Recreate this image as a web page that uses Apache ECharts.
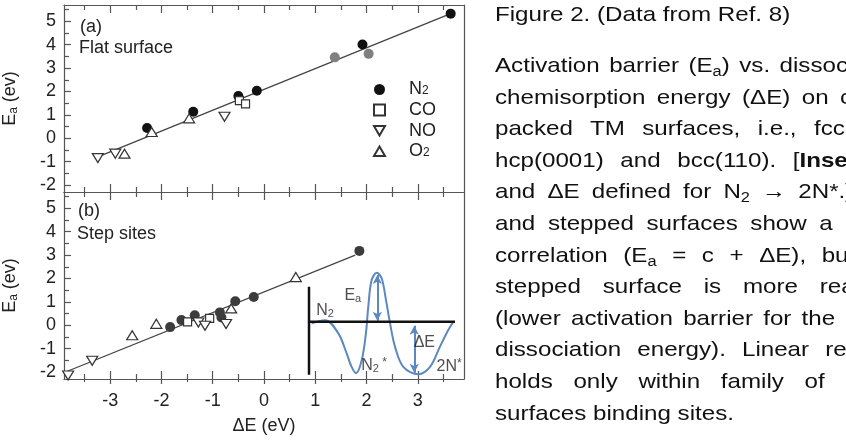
<!DOCTYPE html>
<html>
<head>
<meta charset="utf-8">
<script src="https://cdn.jsdelivr.net/npm/echarts@6/dist/echarts.min.js"></script>
<style>
  html, body { margin: 0; padding: 0; background: #fff; overflow: hidden; }
  #chart { position: absolute; left: 0; top: 0; width: 846px; height: 442px; }
  .ln { position: absolute; left: 495px; width: 356px; height: 24px; font-family: 'Liberation Sans', Arial, sans-serif; font-size: 21px; line-height: 24px; color: #111; white-space: nowrap; transform: scaleX(1.15); transform-origin: 0 0; }
  .j { text-align: justify; text-align-last: justify; white-space: normal; }
  sub { font-size: 0.68em; vertical-align: -0.25em; line-height: 0; }
</style>
</head>
<body>
<div id="chart"></div>
<div class="ln" style="top:2px">Figure 2. (Data from Ref. 8)</div>
<div class="ln j" style="top:53px">Activation barrier (E<sub>a</sub>) vs. dissociative</div>
<div class="ln j" style="top:84.6px">chemisorption energy (ΔE) on close-</div>
<div class="ln j" style="top:116.2px">packed TM surfaces, i.e., fcc(111),</div>
<div class="ln j" style="top:147.8px">hcp(0001) and bcc(110). [<b>Inset</b>: E<sub>a</sub></div>
<div class="ln j" style="top:179.4px">and ΔE defined for N<sub>2</sub> → 2N*.] Flat</div>
<div class="ln j" style="top:211px">and stepped surfaces show a linear</div>
<div class="ln j" style="top:242.6px">correlation (E<sub>a</sub> = c + ΔE), but the</div>
<div class="ln j" style="top:274.2px">stepped surface is more reactive</div>
<div class="ln j" style="top:305.8px">(lower activation barrier for the same</div>
<div class="ln j" style="top:337.4px">dissociation energy). Linear relation</div>
<div class="ln j" style="top:369px">holds only within family of same</div>
<div class="ln" style="top:400.6px">surfaces binding sites.</div>
<script>
// axis ranges and ticks
const xMin = -3.9, xMax = 3.9
const yMin = -2.3, yMax = 5.7
const xMajor = [-3, -2, -1, 0, 1, 2, 3]
const xMinor = [-3.5, -2.5, -1.5, -0.5, 0.5, 1.5, 2.5, 3.5]
const yMajor = [-2, -1, 0, 1, 2, 3, 4, 5]
const yMinor = [-1.5, -0.5, 0.5, 1.5, 2.5, 3.5, 4.5, 5.5]

// (a) flat surface: [dE, Ea]
const aN2 = [[-2.28, 0.44], [-1.38, 1.13], [-0.50, 1.81], [-0.14, 2.03], [1.92, 4.01], [3.64, 5.33]]
const aN2gray = [[1.38, 3.46], [2.04, 3.61]]
const aCO = [[-0.48, 1.61], [-0.36, 1.47]]
const aNO = [[-3.24, -0.85], [-2.90, -0.66], [-0.77, 0.92]]
const aO2 = [[-2.72, -0.66], [-2.19, 0.27], [-1.46, 0.85]]
const aFit = [[-3.3, -0.85], [3.64, 5.33]]

// (b) step sites
const bN2 = [[-1.83, -0.08], [-1.61, 0.22], [-1.35, 0.43], [-0.86, 0.55], [-0.83, 0.33], [-0.56, 1.03], [-0.20, 1.21], [1.86, 3.18]]
const bCO = [[-1.49, 0.14], [-1.06, 0.29]]
const bNO = [[-3.82, -2.15], [-3.35, -1.52], [-1.28, 0.12], [-1.15, -0.02], [-0.74, 0.05]]
const bO2 = [[-2.57, -0.43], [-2.10, 0.06], [-0.64, 0.72], [0.62, 2.06]]
const bFit = [[-3.87, -2.0], [1.78, 3.0]]

// inset: schematic energy profile (x arbitrary, energy in units of the well depth)
const insetCurve = [[0.18, -0.03], [1.1, 0.03], [2.0, -0.22], [2.58, -0.61], [2.92, -0.87], [3.22, -0.99],
  [3.61, -0.74], [3.9, -0.22], [4.06, 0.29], [4.29, 0.8], [4.64, 0.94], [4.98, 0.83], [5.27, 0.42],
  [5.55, -0.03], [5.89, -0.48], [6.46, -0.87], [7.49, -1.01], [8.29, -0.87], [8.97, -0.48], [9.54, -0.16], [9.89, 0]]
const insetVert = [[0, 0.67], [0, -1.02]]
const insetBase = [[0, 0], [10, 0]]
const arrowEa = [[4.68, 0.9], [4.68, 0.02]]
const arrowDE = [[7.21, -0.08], [7.21, -0.98]]
const insetLabels = [
  { name: 'N2', value: [1.1, 0.22] },
  { name: 'Ea', value: [3.0, 0.5] },
  { name: 'N2*', value: [4.45, -0.84] },
  { name: 'dE', value: [7.9, -0.41] },
  { name: '2N*', value: [9.6, -0.86] }
]

const font = "'Liberation Sans', Arial, Helvetica, sans-serif"
const frame = '#555'
const blue = '#5b88c0'
const downTri = 'path://M0,0L10,0L5,8.66Z'
const upTri = 'path://M5,0L10,8.66L0,8.66Z'

const subRich = {
  t: { fontSize: 18, fontFamily: font, color: '#222', lineHeight: 20 },
  s: { fontSize: 12, fontFamily: font, color: '#222', lineHeight: 10, verticalAlign: 'bottom' }
}
const legendRich = {
  t: { fontSize: 18, fontFamily: font, color: '#222', lineHeight: 15 },
  s: { fontSize: 12, fontFamily: font, color: '#222', lineHeight: 3, verticalAlign: 'bottom' }
}
const insetRich = {
  t: { fontSize: 16, fontFamily: font, color: '#222', lineHeight: 18 },
  s: { fontSize: 11, fontFamily: font, color: '#222', lineHeight: 8, verticalAlign: 'bottom' },
  u: { fontSize: 12, fontFamily: font, color: '#222', lineHeight: 8, verticalAlign: 'top' }
}
const insetText = {
  'N2': '{t|N}{s|2}',
  'Ea': '{t|E}{s|a}',
  'N2*': '{t|N}{s|2}{u| *}',
  'dE': '{t|ΔE}',
  '2N*': '{t|2N}{u|*}'
}
const legendText = { N2: '{t|N}{s|2}', CO: '{t|CO}', NO: '{t|NO}', O2: '{t|O}{s|2}' }

function xPart(grid, pos, ticks, len, cfg) {
  return {
    type: 'value', gridIndex: grid, position: pos, min: xMin, max: xMax,
    axisLine: { show: !!cfg.line, onZero: false, lineStyle: { color: frame, width: 1.2 } },
    axisTick: { show: true, inside: !cfg.out, length: len, customValues: ticks, lineStyle: { color: frame, width: 1.2 } },
    axisLabel: { show: !!cfg.labels, customValues: xMajor, margin: 13, color: '#222', fontSize: 18, fontFamily: font },
    splitLine: { show: false },
    name: cfg.name || '',
    nameLocation: 'middle',
    nameGap: 38,
    nameTextStyle: { fontSize: 18, color: '#222', fontFamily: font }
  }
}

function yPart(grid, pos, ticks, len, cfg) {
  return {
    type: 'value', gridIndex: grid, position: pos, min: yMin, max: yMax,
    axisLine: { show: !!cfg.line, onZero: false, lineStyle: { color: frame, width: 1.2 } },
    axisTick: { show: !!ticks, inside: true, length: len, customValues: ticks || [], lineStyle: { color: frame, width: 1.2 } },
    axisLabel: { show: !!cfg.labels, customValues: yMajor, margin: 8, color: '#222', fontSize: 18, fontFamily: font },
    splitLine: { show: false },
    name: cfg.name ? '{t|E}{s|a}{t| (ev)}' : '',
    nameLocation: 'middle',
    nameRotate: 90,
    nameGap: 44,
    nameTextStyle: { rich: subRich }
  }
}

function scat(name, data, xi, yi, symbol, size, fill, stroke) {
  return {
    type: 'scatter', name: name, data: data, xAxisIndex: xi, yAxisIndex: yi,
    symbol: symbol, symbolSize: size, z: 3,
    itemStyle: { color: fill, borderColor: stroke, borderWidth: stroke ? 1.2 : 0, opacity: 1 }
  }
}

function fitLine(data, xi, yi) {
  return {
    type: 'line', data: data, xAxisIndex: xi, yAxisIndex: yi, showSymbol: false, z: 2,
    lineStyle: { color: '#444', width: 1.3 }
  }
}

const chart = echarts.init(document.getElementById('chart'), null, { renderer: 'canvas' })

chart.setOption({
  backgroundColor: '#fff',
  animation: false,
  grid: [
    { left: 62, top: 5, width: 402, height: 187 },
    { left: 62, top: 192, width: 402, height: 187 },
    { left: 309, top: 264.5, width: 146, height: 119.6 }
  ],
  xAxis: [
    xPart(0, 'bottom', xMajor, 8, { line: true }),
    xPart(0, 'bottom', xMinor, 5, {}),
    xPart(0, 'top', xMajor, 8, { line: true }),
    xPart(0, 'top', xMinor, 5, {}),
    xPart(1, 'bottom', xMajor, 8, { line: true, labels: true, name: 'ΔE (eV)' }),
    xPart(1, 'bottom', xMinor, 5, {}),
    xPart(1, 'top', xMajor, 8, { line: true }),
    xPart(1, 'top', xMinor, 5, {}),
    xPart(1, 'bottom', xMajor, 5, { out: true }),
    xPart(1, 'bottom', xMinor, 3, { out: true }),
    { type: 'value', gridIndex: 2, min: 0, max: 10, show: false }
  ],
  yAxis: [
    yPart(0, 'left', yMajor, 7, { line: true, labels: true, name: true }),
    yPart(0, 'left', yMinor, 5, {}),
    yPart(0, 'right', null, 0, { line: true }),
    yPart(1, 'left', yMajor, 7, { line: true, labels: true, name: true }),
    yPart(1, 'left', yMinor, 5, {}),
    yPart(1, 'right', null, 0, { line: true }),
    { type: 'value', gridIndex: 2, min: -1.2, max: 1.1, show: false }
  ],
  legend: {
    data: [
      { name: 'N2', icon: 'circle' },
      { name: 'CO', icon: 'rect' },
      { name: 'NO', icon: downTri },
      { name: 'O2', icon: upTri }
    ],
    orient: 'vertical',
    left: 368,
    top: 75.5,
    itemWidth: 11,
    itemHeight: 11,
    itemGap: 2.6,
    selectedMode: false,
    formatter: function (n) { return legendText[n] },
    textStyle: { lineHeight: 15, padding: [0, 0, 0, 19], rich: legendRich }
  },
  graphic: [
    { type: 'text', x: 80, y: 27, style: { text: '(a)', font: '18px ' + font, fill: '#222', verticalAlign: 'middle' } },
    { type: 'text', x: 79, y: 48, style: { text: 'Flat surface', font: '18px ' + font, fill: '#222', verticalAlign: 'middle' } },
    { type: 'text', x: 78, y: 211, style: { text: '(b)', font: '18px ' + font, fill: '#222', verticalAlign: 'middle' } },
    { type: 'text', x: 77, y: 234, style: { text: 'Step sites', font: '18px ' + font, fill: '#222', verticalAlign: 'middle' } }
  ],
  series: [
    fitLine(aFit, 0, 0),
    scat('N2', aN2, 0, 0, 'circle', 10, '#111'),
    scat('N2gray', aN2gray, 0, 0, 'circle', 10, '#808080'),
    scat('CO', aCO, 0, 0, 'rect', 8, '#fff', '#333'),
    scat('NO', aNO, 0, 0, downTri, [11, 9], '#fff', '#333'),
    scat('O2', aO2, 0, 0, upTri, [11, 9], '#fff', '#333'),

    fitLine(bFit, 4, 3),
    scat('N2', bN2, 4, 3, 'circle', 10, '#3c3c3c'),
    scat('CO', bCO, 4, 3, 'rect', 8, '#fff', '#333'),
    scat('NO', bNO, 4, 3, downTri, [11, 9], '#fff', '#333'),
    scat('O2', bO2, 4, 3, upTri, [11, 9], '#fff', '#333'),

    {
      type: 'line', data: insetCurve, xAxisIndex: 10, yAxisIndex: 6, smooth: 0.35, showSymbol: false, z: 4,
      lineStyle: { color: blue, width: 2 },
      markLine: {
        silent: true,
        symbol: ['arrow', 'arrow'],
        symbolSize: [7, 9],
        label: { show: false },
        lineStyle: { color: blue, width: 2, type: 'solid' },
        data: [
          [{ coord: arrowEa[0] }, { coord: arrowEa[1] }],
          [{ coord: arrowDE[0] }, { coord: arrowDE[1] }]
        ]
      }
    },
    { type: 'line', data: insetVert, xAxisIndex: 10, yAxisIndex: 6, showSymbol: false, z: 5, lineStyle: { color: '#111', width: 2.5 } },
    { type: 'line', data: insetBase, xAxisIndex: 10, yAxisIndex: 6, showSymbol: false, z: 5, lineStyle: { color: '#111', width: 2.5 } },
    {
      type: 'scatter', data: insetLabels, xAxisIndex: 10, yAxisIndex: 6, symbolSize: 1, z: 6,
      itemStyle: { color: 'transparent' },
      label: {
        show: true, position: 'inside',
        formatter: function (p) { return insetText[p.name] },
        rich: insetRich
      }
    }
  ]
})
</script>
</body>
</html>
